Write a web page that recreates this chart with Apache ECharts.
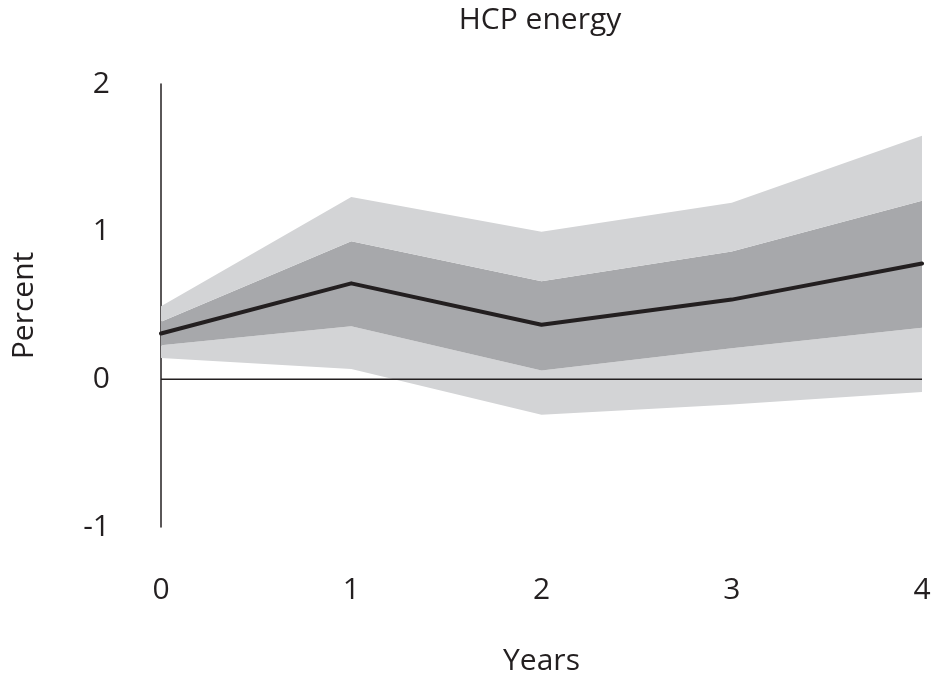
<!DOCTYPE html>
<html>
<head>
<meta charset="utf-8">
<script src="https://cdn.jsdelivr.net/npm/echarts@6/dist/echarts.min.js"></script>
<style>
  html, body { margin: 0; padding: 0; background: #fff; overflow: hidden; }
  #chart { width: 937px; height: 681px; }
</style>
</head>
<body>
<div id="chart"></div>
<script>
// Horizon in years
const years = ['0', '1', '2', '3', '4'];
// Central projection (percent)
const central = [0.31, 0.65, 0.37, 0.54, 0.785];
// Inner (darker) band
const innerLow = [0.23, 0.36, 0.06, 0.21, 0.35];
const innerHigh = [0.39, 0.935, 0.665, 0.865, 1.21];
// Outer (lighter) band
const outerLow = [0.145, 0.07, -0.24, -0.17, -0.085];
const outerHigh = [0.495, 1.235, 1.0, 1.195, 1.65];
// Axis ticks
const yTicks = [-1, 0, 1, 2];

const diff = (a, b) => a.map((v, i) => +(v - b[i]).toFixed(4));

const FONT = 'Open Sans';
const INK = '#231f20';
const LIGHT = '#d3d4d6';
const DARK = '#a7a8ab';

// Bands are stacked: lower outer edge, then the gaps between successive edges
const bandBase = {
  type: 'line',
  stack: 'band',
  stackStrategy: 'all',
  symbol: 'none',
  lineStyle: { width: 0, opacity: 0 },
  silent: true,
  z: 1
};

const chart = echarts.init(document.getElementById('chart'), null, { renderer: 'canvas' });
chart.setOption({
  animation: false,
  backgroundColor: '#ffffff',
  title: {
    text: 'HCP energy',
    left: 535,
    top: 0,
    textAlign: 'center',
    textStyle: { fontFamily: FONT, fontSize: 30, fontWeight: 'normal', color: INK }
  },
  grid: { left: 161, width: 761, top: 84, height: 445 },
  xAxis: {
    type: 'category',
    data: years,
    boundaryGap: false,
    name: 'Years',
    nameLocation: 'middle',
    nameGap: 119,
    nameTextStyle: { fontFamily: FONT, fontSize: 30, color: INK, verticalAlign: 'top' },
    axisLine: { show: false },
    axisTick: { show: false },
    splitLine: { show: false },
    axisLabel: { margin: 48, fontFamily: FONT, fontSize: 30, color: INK }
  },
  yAxis: {
    type: 'value',
    min: yTicks[0],
    max: yTicks[yTicks.length - 1],
    interval: 1,
    name: 'Percent',
    nameLocation: 'middle',
    nameGap: 122,
    nameRotate: 90,
    nameTextStyle: { fontFamily: FONT, fontSize: 30, color: INK },
    axisLine: { show: true, onZero: false, lineStyle: { color: INK, width: 1.5 } },
    axisTick: { show: false },
    splitLine: { show: false },
    axisLabel: { margin: 51, fontFamily: FONT, fontSize: 30, color: INK }
  },
  series: [
    Object.assign({}, bandBase, { name: 'outerLow', data: outerLow }),
    Object.assign({}, bandBase, { name: 'lowerOuter', data: diff(innerLow, outerLow), areaStyle: { color: LIGHT, opacity: 1 } }),
    Object.assign({}, bandBase, { name: 'inner', data: diff(innerHigh, innerLow), areaStyle: { color: DARK, opacity: 1 } }),
    Object.assign({}, bandBase, { name: 'upperOuter', data: diff(outerHigh, innerHigh), areaStyle: { color: LIGHT, opacity: 1 } }),
    {
      name: 'zero',
      type: 'line',
      data: years.map(() => 0),
      symbol: 'none',
      silent: true,
      lineStyle: { color: INK, width: 1.5 },
      z: 3
    },
    {
      name: 'central',
      type: 'line',
      data: central,
      symbol: 'none',
      silent: true,
      lineStyle: { color: INK, width: 4, cap: 'round', join: 'round' },
      z: 4
    }
  ]
});
</script>
</body>
</html>
